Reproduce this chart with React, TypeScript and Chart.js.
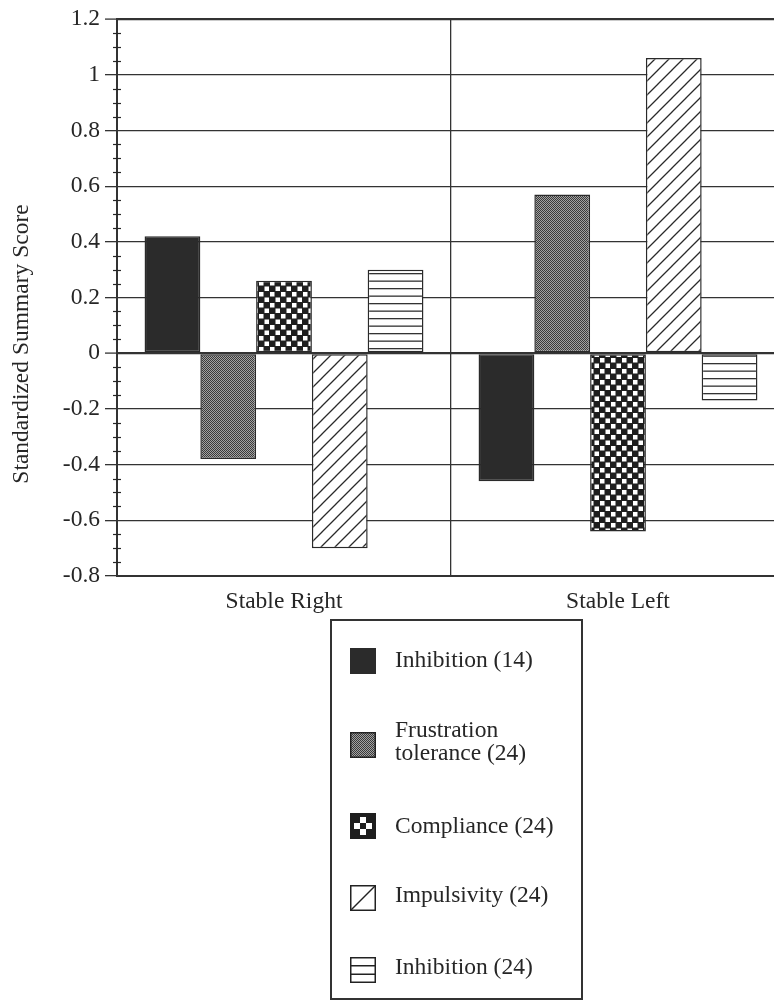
import React, { useEffect, useRef } from "react";
import { Chart, registerables } from "chart.js";

Chart.register(...registerables);

// ---------------- data ----------------
const categories = ["Stable Right", "Stable Left"];
const seriesLabels = [
  "Inhibition (14)",
  "Frustration\ntolerance (24)",
  "Compliance (24)",
  "Impulsivity (24)",
  "Inhibition (24)",
];
const inhibition14 = [0.42, -0.46];
const frustrationTolerance = [-0.38, 0.57];
const compliance = [0.26, -0.64];
const impulsivity = [-0.7, 1.06];
const inhibition24 = [0.3, -0.17];
const yTickLabels = ["-0.8", "-0.6", "-0.4", "-0.2", "0", "0.2", "0.4", "0.6", "0.8", "1", "1.2"];
const yAxisTitle = "Standardized Summary Score";
const Y_MIN = -0.8;
const Y_MAX = 1.2;
const Y_STEP = 0.2;
const Y_MINOR_PER_MAJOR = 4;

const FONT = "'Liberation Serif', 'Times New Roman', serif";
const FONT_SIZE = 23.5;
const INK = "#262626";

function tile(w: number, h: number, draw: (c: CanvasRenderingContext2D) => void) {
  const cv = document.createElement("canvas");
  cv.width = w;
  cv.height = h;
  const c = cv.getContext("2d")!;
  draw(c);
  return cv;
}

function makePatterns(ctx: CanvasRenderingContext2D) {
  const solid = "#2b2b2b";
  const stipple = ctx.createPattern(
    tile(2, 2, (c) => {
      c.fillStyle = "#a2a2a2";
      c.fillRect(0, 0, 2, 2);
      c.fillStyle = "#3a3a3a";
      c.fillRect(0, 0, 1, 1);
      c.fillRect(1, 1, 1, 1);
    }),
    "repeat"
  )!;
  const checker = ctx.createPattern(
    tile(11, 11, (c) => {
      c.fillStyle = "#1e1e1e";
      c.fillRect(0, 0, 11, 11);
      c.fillStyle = "#ffffff";
      c.fillRect(0.5, 0.5, 4.5, 4.5);
      c.fillRect(6, 6, 4.5, 4.5);
    }),
    "repeat"
  )!;
  const diag = ctx.createPattern(
    tile(14, 14, (c) => {
      c.fillStyle = "#ffffff";
      c.fillRect(0, 0, 14, 14);
      c.strokeStyle = "#2a2a2a";
      c.lineWidth = 1.3;
      c.beginPath();
      c.moveTo(-1, 15);
      c.lineTo(15, -1);
      c.moveTo(-2, 2);
      c.lineTo(2, -2);
      c.moveTo(12, 16);
      c.lineTo(16, 12);
      c.stroke();
    }),
    "repeat"
  )!;
  const horiz = ctx.createPattern(
    tile(4, 15, (c) => {
      c.fillStyle = "#ffffff";
      c.fillRect(0, 0, 4, 15);
      c.fillStyle = "#333333";
      c.fillRect(0, 3, 4, 1.3);
      c.fillRect(0, 10.5, 4, 1.3);
    }),
    "repeat"
  )!;
  return [solid, stipple, checker, diag, horiz];
}

const isClose = (a: number, b: number) => Math.abs(a - b) < 1e-9;

export default function App() {
  const ref = useRef<HTMLCanvasElement>(null);

  useEffect(() => {
    const canvas = ref.current!;
    const ctx = canvas.getContext("2d")!;
    const fills = makePatterns(ctx);
    const seriesValues = [inhibition14, frustrationTolerance, compliance, impulsivity, inhibition24];

    const decor = {
      id: "decor",
      afterDraw(chart: any) {
        const c = chart.ctx as CanvasRenderingContext2D;
        const y = chart.scales.y;
        const area = chart.chartArea;
        c.save();

        // minor ticks on y axis
        c.strokeStyle = INK;
        c.lineWidth = 1.2;
        const nMinor = Math.round((Y_MAX - Y_MIN) / Y_STEP) * Y_MINOR_PER_MAJOR;
        for (let i = 0; i <= nMinor; i++) {
          if (i % Y_MINOR_PER_MAJOR === 0) continue;
          const v = Y_MIN + (i * Y_STEP) / Y_MINOR_PER_MAJOR;
          const py = Math.round(y.getPixelForValue(v)) + 0.5;
          c.beginPath();
          c.moveTo(area.left - 4, py);
          c.lineTo(area.left + 4, py);
          c.stroke();
        }

        // y axis title
        c.fillStyle = INK;
        c.font = `${FONT_SIZE}px ${FONT}`;
        c.textAlign = "center";
        c.textBaseline = "alphabetic";
        c.save();
        c.translate(28, 344);
        c.rotate(-Math.PI / 2);
        c.fillText(yAxisTitle, 0, 0);
        c.restore();

        // legend box
        c.strokeStyle = "#333";
        c.lineWidth = 2;
        c.strokeRect(331, 620, 251, 379);

        const swTop = [648, 732, 813, 885, 957];
        const baselines = [[667], [737, 760], [833], [902], [974]];
        const sx = 350;
        const sw = 26;
        chart.data.datasets.forEach((ds: any, i: number) => {
          const ty = swTop[i];
          c.lineWidth = 1.5;
          c.strokeStyle = "#222";
          if (i === 0) {
            c.fillStyle = fills[0] as any;
            c.fillRect(sx, ty, sw, sw);
          } else if (i === 1) {
            c.fillStyle = fills[1] as any;
            c.fillRect(sx, ty, sw, sw);
            c.strokeRect(sx + 0.75, ty + 0.75, sw - 1.5, sw - 1.5);
          } else if (i === 2) {
            c.fillStyle = "#1e1e1e";
            c.fillRect(sx, ty, sw, sw);
            c.fillStyle = "#fff";
            const cs = 6;
            const o = 4;
            c.fillRect(sx + o + cs, ty + o, cs, cs);
            c.fillRect(sx + o, ty + o + cs, cs, cs);
            c.fillRect(sx + o + 2 * cs, ty + o + cs, cs, cs);
            c.fillRect(sx + o + cs, ty + o + 2 * cs, cs, cs);
          } else if (i === 3) {
            c.fillStyle = "#fff";
            c.fillRect(sx, ty, sw, sw);
            c.strokeRect(sx + 0.75, ty + 0.75, sw - 1.5, sw - 1.5);
            c.beginPath();
            c.moveTo(sx + 1, ty + sw - 1);
            c.lineTo(sx + sw - 1, ty + 1);
            c.stroke();
          } else {
            c.fillStyle = "#fff";
            c.fillRect(sx, ty, sw, sw);
            c.strokeRect(sx + 0.75, ty + 0.75, sw - 1.5, sw - 1.5);
            c.beginPath();
            c.moveTo(sx, ty + sw / 3);
            c.lineTo(sx + sw, ty + sw / 3);
            c.moveTo(sx, ty + (2 * sw) / 3);
            c.lineTo(sx + sw, ty + (2 * sw) / 3);
            c.stroke();
          }
          c.fillStyle = INK;
          c.textAlign = "left";
          c.textBaseline = "alphabetic";
          const lines = String(ds.label).split("\n");
          lines.forEach((ln: string, k: number) => {
            c.fillText(ln, 395, baselines[i][k] ?? baselines[i][0] + k * 23);
          });
        });

        c.restore();
      },
    };

    const chart = new Chart(canvas, {
      type: "bar",
      data: {
        labels: categories,
        datasets: seriesValues.map((vals, i) => ({
          label: seriesLabels[i],
          data: vals,
          backgroundColor: fills[i] as any,
          borderColor: "#2a2a2a",
          borderWidth: 1.5,
          borderSkipped: false,
          barPercentage: 1,
          categoryPercentage: 0.835,
        })),
      },
      options: {
        responsive: false,
        devicePixelRatio: 1,
        animation: false,
        layout: { padding: { top: 18, right: 15, left: 0, bottom: 0 } },
        plugins: {
          legend: { display: false },
          tooltip: { enabled: false },
        },
        scales: {
          x: {
            grid: {
              offset: true,
              color: "#333",
              lineWidth: 1.3,
              drawTicks: false,
            },
            border: { color: "#333", width: 2 },
            ticks: {
              color: INK,
              font: { family: FONT, size: FONT_SIZE },
              padding: 12,
            },
            afterFit: (s: any) => {
              s.height = 426;
            },
          },
          y: {
            min: Y_MIN,
            max: Y_MAX,
            ticks: {
              stepSize: Y_STEP,
              color: INK,
              font: { family: FONT, size: FONT_SIZE },
              padding: 5,
              callback: (_v: any, index: number) => yTickLabels[index],
            },
            grid: {
              color: "#333",
              lineWidth: (ctx: any) => {
                const v = ctx.tick ? ctx.tick.value : NaN;
                return isClose(v, 0) || isClose(v, Y_MAX) ? 2.2 : 1.3;
              },
              tickLength: 12,
              tickColor: "#333",
              tickWidth: 1.3,
            },
            border: { color: "#333", width: 2 },
            afterFit: (s: any) => {
              s.width = 117;
            },
          },
        },
      },
      plugins: [decor],
    });

    return () => chart.destroy();
  }, []);

  return (
    <div
      style={{
        position: "fixed",
        left: 0,
        top: 0,
        width: 774,
        height: 1002,
        overflow: "hidden",
        background: "#fff",
      }}
    >
      <canvas ref={ref} width={800} height={1002} style={{ display: "block", width: 800, height: 1002 }} />
    </div>
  );
}
